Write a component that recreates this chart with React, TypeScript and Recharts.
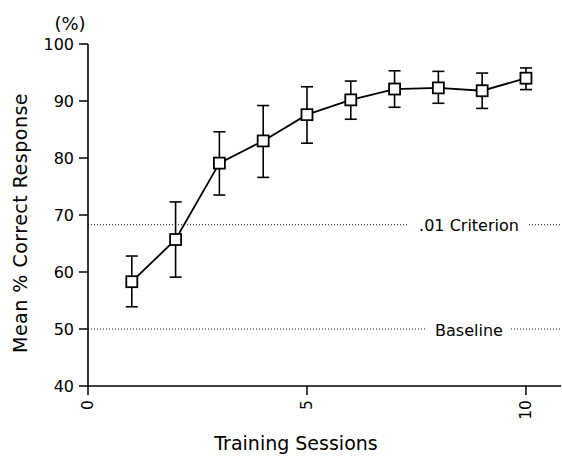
import React from 'react';
import { LineChart, Line, XAxis, YAxis, ErrorBar, ReferenceLine } from 'recharts';

const sessions = [1, 2, 3, 4, 5, 6, 7, 8, 9, 10];
const means = [58.3, 65.7, 79.1, 83.0, 87.6, 90.2, 92.1, 92.3, 91.8, 94.0];
const upper = [62.8, 72.3, 84.6, 89.2, 92.5, 93.5, 95.3, 95.2, 94.9, 95.8];
const lower = [53.9, 59.1, 73.5, 76.6, 82.6, 86.8, 88.9, 89.6, 88.7, 92.0];
const xTicks = [0, 5, 10];
const yTicks = [40, 50, 60, 70, 80, 90, 100];
const criterionValue = 68.3;
const baselineValue = 50;

const data = sessions.map((s, i) => ({
  session: s,
  mean: means[i],
  err: [+(means[i] - lower[i]).toFixed(2), +(upper[i] - means[i]).toFixed(2)],
}));

const FONT = 'DejaVu Sans, Verdana, sans-serif';

const SquareDot = (props: any) => {
  const { cx, cy } = props;
  if (cx == null || cy == null) return null;
  const s = 11;
  return (
    <rect x={cx - s / 2} y={cy - s / 2} width={s} height={s} fill="#fff" stroke="#000" strokeWidth={1.8} />
  );
};

const XTick = (props: any) => {
  const { x, y, payload } = props;
  return (
    <text
      x={x}
      y={y}
      transform={`rotate(-90, ${x}, ${y})`}
      textAnchor="end"
      dominantBaseline="central"
      fontFamily={FONT}
      fontSize={15.5}
      fill="#000"
    >
      {payload.value}
    </text>
  );
};

const makeRefLabel = (text: string, boxW: number) => (props: any) => {
  const vb = props.viewBox || {};
  const cx = vb.x + vb.width - 92;
  const cy = vb.y;
  return (
    <g>
      <rect x={cx - boxW / 2} y={cy - 10} width={boxW} height={20} fill="#fff" />
      <text x={cx} y={cy + 1} textAnchor="middle" dominantBaseline="central" fontFamily={FONT} fontSize={16} fill="#000">
        {text}
      </text>
    </g>
  );
};

const YLabel = (props: any) => {
  const vb = props.viewBox || {};
  const lx = 20;
  const ly = vb.y + vb.height / 2 + 8;
  return (
    <g>
      <text
        x={lx}
        y={ly}
        transform={`rotate(-90, ${lx}, ${ly})`}
        textAnchor="middle"
        dominantBaseline="central"
        fontFamily={FONT}
        fontSize={19}
        letterSpacing={0.5}
        fill="#000"
      >
        Mean % Correct Response
      </text>
      <text x={vb.x + vb.width - 18} y={vb.y - 21} textAnchor="middle" dominantBaseline="central" fontFamily={FONT} fontSize={18} fill="#000">
        (%)
      </text>
    </g>
  );
};

const XLabel = (props: any) => {
  const vb = props.viewBox || {};
  return (
    <text x={vb.x + 208} y={450} textAnchor="middle" fontFamily={FONT} fontSize={19} fill="#000">
      Training Sessions
    </text>
  );
};

export default function App() {
  return (
    <div style={{ position: 'absolute', left: 0, top: 0, background: '#fff' }}>
      <LineChart width={562} height={456} data={data} margin={{ top: 44, right: 1, bottom: 0, left: 0 }}>
        <XAxis
          dataKey="session"
          type="number"
          domain={[0, 10.8]}
          allowDataOverflow
          ticks={xTicks}
          height={70}
          tickSize={9}
          tickMargin={5}
          axisLine={{ stroke: '#000', strokeWidth: 1.6 }}
          tickLine={{ stroke: '#000', strokeWidth: 1.5 }}
          tick={<XTick />}
          label={{ content: <XLabel /> } as any}
        />
        <YAxis
          type="number"
          domain={[40, 100]}
          ticks={yTicks}
          width={88}
          tickSize={9}
          tickMargin={5}
          axisLine={{ stroke: '#000', strokeWidth: 1.6 }}
          tickLine={{ stroke: '#000', strokeWidth: 1.5 }}
          tick={{ fill: '#000', fontFamily: FONT, fontSize: 16 }}
          label={{ content: <YLabel /> } as any}
        />
        <ReferenceLine
          y={criterionValue}
          stroke="#111"
          strokeWidth={1}
          strokeDasharray="1 2"
          label={{ content: makeRefLabel('.01 Criterion', 120) } as any}
        />
        <ReferenceLine
          y={baselineValue}
          stroke="#111"
          strokeWidth={1}
          strokeDasharray="1 2"
          label={{ content: makeRefLabel('Baseline', 84) } as any}
        />
        <Line
          type="linear"
          dataKey="mean"
          stroke="#000"
          strokeWidth={1.8}
          dot={<SquareDot />}
          activeDot={false}
          isAnimationActive={false}
        >
          <ErrorBar dataKey="err" direction="y" width={6} stroke="#000" strokeWidth={1.6} />
        </Line>
      </LineChart>
    </div>
  );
}
